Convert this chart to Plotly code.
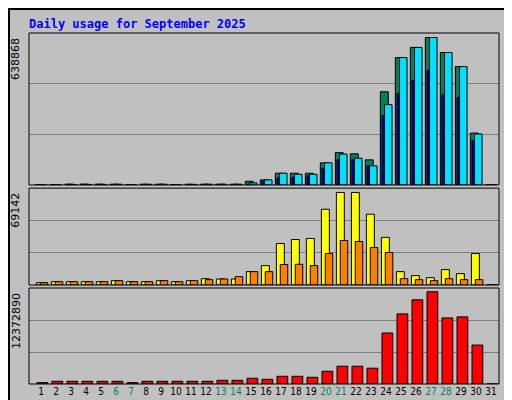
import plotly.graph_objects as go

days = list(range(1, 32))
hits = [2000,2000,4000,4000,4000,3500,2000,3500,3500,2000,3500,3500,3500,3500,16000,22000,51000,51000,51000,96000,140000,135000,109000,404000,552000,596000,638868,574000,513000,225000,0]
files = [0,0,1500,2500,2500,3500,0,3000,3500,0,2500,3500,3500,3500,9000,22000,51000,46500,46500,96000,134000,116000,83000,348000,552000,596000,638868,574000,513000,221000,0]
pages = [0,0,0,800,0,800,0,800,800,0,800,800,800,800,3000,16000,30500,33500,40500,73000,109000,109000,83000,301000,397000,453000,497000,391000,379000,192000,0]
visits = [1750,2500,2500,2500,2500,3250,2500,2500,3250,2500,3250,4750,4500,4500,10000,14500,31000,34000,34800,56600,69142,69142,52900,35600,10000,7000,5500,11500,8500,23500,0]
sites = [1750,2500,2500,2500,2500,3250,2500,2500,3250,2500,3250,4000,4500,6250,10000,10000,15300,15500,14500,23500,33300,32500,28000,24300,4750,4000,3250,4750,4000,4000,0]
kbytes = [180000,360000,360000,360000,360000,360000,180000,360000,360000,360000,360000,360000,495000,495000,765000,630000,1035000,1035000,900000,1710000,2385000,2385000,2115000,6840000,9400000,11290000,12372890,8860000,9000000,5220000,0]
weekends = [6, 7, 13, 14, 20, 21, 27, 28]

fig = go.Figure()
ln = dict(color="black", width=1)
def bar(y, color, w, off, ax):
    fig.add_trace(go.Bar(x=days, y=y, width=w, offset=off, marker=dict(color=color, line=ln),
                         xaxis="x", yaxis=ax, showlegend=False))

bar(hits, "#00805C", 0.53, -0.38, "y")
bar(pages, "#0000FF", 0.13, -0.27, "y")
bar(files, "#00E0FF", 0.5, -0.1, "y")
bar(visits, "#FFFF00", 0.53, -0.31, "y2")
bar(sites, "#FF8000", 0.5, -0.05, "y2")
bar(kbytes, "#FF0000", 0.72, -0.27, "y3")

def yax(top, dom):
    return dict(domain=dom, range=[0, top], tickvals=[top/3, 2*top/3], showticklabels=False,
                showgrid=True, gridcolor="#808080", gridwidth=1, zeroline=False, fixedrange=True)

t1, t2, t3 = 658500, 72370, 12872000
ticktext = [f"<span style='color:#00805C'>{d}</span>" if d in weekends else str(d) for d in days]
fig.update_layout(
    width=512, height=400, margin=dict(l=21, r=21, t=25, b=24),
    paper_bgcolor="#C0C0C0", plot_bgcolor="#C0C0C0", barmode="overlay",
    font=dict(family="DejaVu Sans", size=11, color="black"),
    xaxis=dict(range=[0.2, 31.53], tickvals=days, ticktext=ticktext, showgrid=False, tickangle=0,
               ticks="", zeroline=False, anchor="y3", tickfont=dict(size=10, family="DejaVu Sans Condensed")),
    yaxis=yax(t1, [0.567, 1]), yaxis2=yax(t2, [0.282, 0.558]), yaxis3=yax(t3, [0, 0.2735]),
)

def panel(y0, y1):
    fig.add_shape(type="rect", xref="paper", yref="paper", x0=0, x1=1, y0=y0, y1=y1,
                  line=dict(color="black", width=1))
panel(0.567, 1); panel(0.282, 0.558); panel(0, 0.2735)
fig.add_shape(type="rect", xref="paper", yref="paper", x0=-20/470, x1=1+20/470, y0=-23/351, y1=1+24/351,
              line=dict(color="black", width=2))

fig.add_annotation(text="<b>Daily usage for September 2025</b>", xref="paper", yref="paper",
                   x=-2/470, y=1+9/351, xanchor="left", yanchor="middle", showarrow=False,
                   font=dict(family="DejaVu Sans Mono", size=12, color="#0000FF"))
for txt, ytop in [("638868", 1), ("69142", 0.558), ("12372890", 0.2735)]:
    fig.add_annotation(text=txt, textangle=-90, xref="paper", yref="paper", x=-13/470, y=ytop - 3/351,
                       xanchor="center", yanchor="top", showarrow=False, font=dict(size=11))
rl = [("<span style='color:#00E0FF'>Pages</span> / <span style='color:#0000FF'>Files</span> / <span style='color:#00805C'>Hits</span>", 1),
      ("<span style='color:#FF8000'>Sites</span> / <span style='color:#FFFF00'>Visits</span>", 0.558),
      ("<span style='color:#FF0000'>KBytes</span>", 0.2735)]
for txt, ytop in rl:
    fig.add_annotation(text=txt, textangle=-90, xref="paper", yref="paper", x=1+9/470, y=ytop - 2/351,
                       xanchor="center", yanchor="top", showarrow=False, borderpad=0,
                       font=dict(family="DejaVu Sans Mono", size=10))

fig.write_html("out.html")
